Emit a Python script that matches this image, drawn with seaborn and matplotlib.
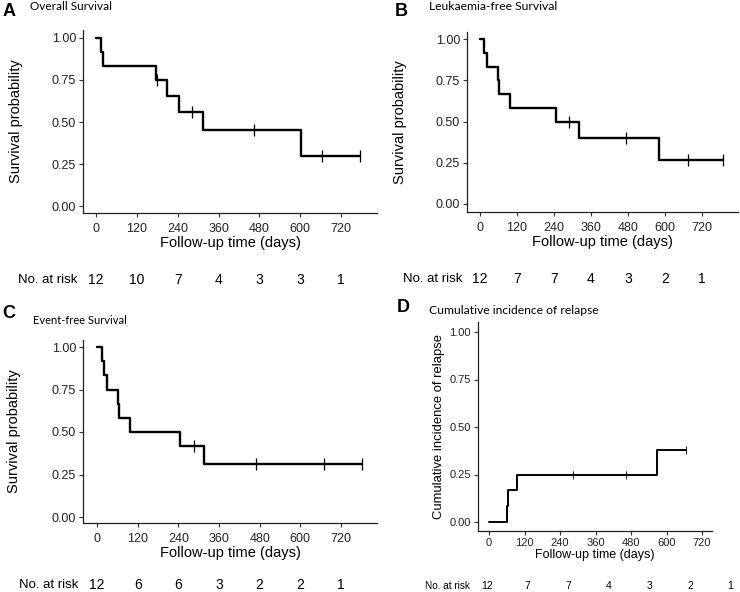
import numpy as np
import pandas as pd
import matplotlib
matplotlib.use("Agg")
import matplotlib.pyplot as plt
import seaborn as sns

# ---------------- data ----------------
risk_times = [0, 120, 240, 360, 480, 600, 720]
xticks = [0, 120, 240, 360, 480, 600, 720]
yticks = [0.0, 0.25, 0.50, 0.75, 1.00]

# A: Overall survival
times_A = [0, 14, 22, 175, 210, 245, 314, 603, 775]
surv_A = [1.0, 0.917, 0.833, 0.75, 0.656, 0.5625, 0.45, 0.30, 0.30]
cens_t_A = [179, 283, 465, 664, 775]
cens_s_A = [0.75, 0.5625, 0.45, 0.30, 0.30]
risk_A = [12, 10, 7, 4, 3, 3, 1]

# B: Leukaemia-free survival
times_B = [0, 14, 22, 60, 63, 97, 247, 320, 580, 788]
surv_B = [1.0, 0.917, 0.833, 0.75, 0.667, 0.583, 0.50, 0.40, 0.267, 0.267]
cens_t_B = [289, 474, 677, 788]
cens_s_B = [0.50, 0.40, 0.267, 0.267]
risk_B = [12, 7, 7, 4, 3, 2, 1]

# C: Event-free survival
times_C = [0, 15, 22, 29, 61, 64, 96, 246, 317, 781]
surv_C = [1.0, 0.917, 0.833, 0.75, 0.667, 0.583, 0.50, 0.417, 0.3125, 0.3125]
cens_t_C = [287, 468, 669, 781]
cens_s_C = [0.417, 0.3125, 0.3125, 0.3125]
risk_C = [12, 6, 6, 3, 2, 2, 1]

# D: Cumulative incidence of relapse
times_D = [0, 60, 63, 95, 568, 667]
cif_D = [0.0, 0.083, 0.167, 0.25, 0.38, 0.38]
cens_t_D = [284, 464, 667]
cens_s_D = [0.25, 0.25, 0.38]
risk_D = [12, 7, 7, 4, 3, 2, 1]

# ---------------- style ----------------
sns.set_theme(style="ticks")
plt.rcParams["font.family"] = ["Liberation Sans", "DejaVu Sans"]

W, H = 740, 592
fig = plt.figure(figsize=(W / 100, H / 100), dpi=100)
fig.patch.set_facecolor("white")


def px_axes(left, right, top, bottom):
    return fig.add_axes([left / W, 1 - bottom / H, (right - left) / W, (bottom - top) / H])


def panel(box, x0px, x720px, y1px, y0px, t, s, ct, cs, ylabel,
          tick_fs, lab_fs, ylab_fs, lw, cens_size, ylabelpad, xpad):
    left, right, top, bottom = box
    ax = px_axes(left, right, top, bottom)
    sx = (x720px - x0px) / 720.0
    sy = (y0px - y1px)
    df = pd.DataFrame({"t": t, "s": s})
    sns.lineplot(data=df, x="t", y="s", ax=ax, drawstyle="steps-post",
                 color="black", linewidth=lw, estimator=None, sort=False)
    ax.plot(ct, cs, linestyle="none", marker="|", color="black",
            markersize=cens_size, markeredgewidth=0.9 if cens_size > 6 else 0.6)
    ax.set_xlim((left - x0px) / sx, (right - x0px) / sx)
    ax.set_ylim((y0px - bottom) / sy, (y0px - top) / sy)
    ax.set_xticks(xticks)
    ax.set_yticks(yticks)
    ax.set_yticklabels([f"{v:.2f}" for v in yticks])
    ax.set_xlabel("Follow-up time (days)", fontsize=lab_fs, color="black", labelpad=1)
    ax.set_ylabel(ylabel, fontsize=ylab_fs, color="black", labelpad=ylabelpad)
    ax.tick_params(axis="both", labelsize=tick_fs, length=3, width=0.8,
                   color="#333333", labelcolor="#222222", pad=2)
    ax.tick_params(axis="x", pad=xpad)
    for sp in ["top", "right"]:
        ax.spines[sp].set_visible(False)
    for sp in ["left", "bottom"]:
        ax.spines[sp].set_linewidth(0.9)
        ax.spines[sp].set_color("#222222")
    ax.set_facecolor("white")
    return ax


def risk_row(x0px, x720px, ypx, counts, label_right, lab_fs, num_fs):
    ax = fig.add_axes([x0px / W, 1 - (ypx + 5) / H, (x720px - x0px) / W, 10 / H])
    ax.set_xlim(0, 720)
    ax.set_ylim(0, 1)
    ax.axis("off")
    for tt, n in zip(risk_times, counts):
        ax.text(tt, 0.5, str(n), ha="center", va="center", fontsize=num_fs, color="black")
    fig.text(label_right / W, 1 - ypx / H, "No. at risk", ha="right", va="center",
             fontsize=lab_fs, color="black")


def heading(letter, lx, ly, title, tx, ty, tfs):
    fig.text(lx / W, 1 - ly / H, letter, fontsize=13, fontweight="bold",
             ha="left", va="center", color="black")
    fig.text(tx / W, 1 - ty / H, title, fontsize=tfs, family=["Lato", "DejaVu Sans"],
             ha="left", va="center", color="black")


# Panel A
panel((83, 377, 30, 213), 96, 341, 38, 206, times_A, surv_A, cens_t_A, cens_s_A,
      "Survival probability", 9, 10.5, 10.5, 1.7, 9, 21, 4)
risk_row(96, 341, 280, risk_A, 77, 9.5, 10)
heading("A", 3, 12, "Overall Survival", 30, 7, 8.5)

# Panel B
panel((467, 738, 32, 212), 480, 701.7, 39, 204, times_B, surv_B, cens_t_B, cens_s_B,
      "Survival probability", 9, 10.5, 10.5, 1.7, 9, 21, 4)
risk_row(480, 701.7, 279, risk_B, 462, 9.5, 10)
heading("B", 395, 12, "Leukaemia-free Survival", 429, 7, 8.7)

# Panel C
panel((83, 377, 340, 523), 97, 341, 347, 517, times_C, surv_C, cens_t_C, cens_s_C,
      "Survival probability", 9, 10.5, 10.5, 1.7, 9, 22, 4)
risk_row(97, 341, 585, risk_C, 78, 9.5, 10)
heading("C", 2, 313, "Event-free Survival", 33, 321, 8.0)

# Panel D
panel((478, 712, 322, 531), 489, 702, 332, 522, times_D, cif_D, cens_t_D, cens_s_D,
      "Cumulative incidence of relapse", 8, 9, 9.4, 1.4, 6, 3, 2)
risk_row(487, 730.5, 586, risk_D, 470, 7.2, 7.5)
heading("D", 397, 308, "Cumulative incidence of relapse", 429, 310, 8.75)

fig.savefig("out.png", dpi=100, facecolor="white")
